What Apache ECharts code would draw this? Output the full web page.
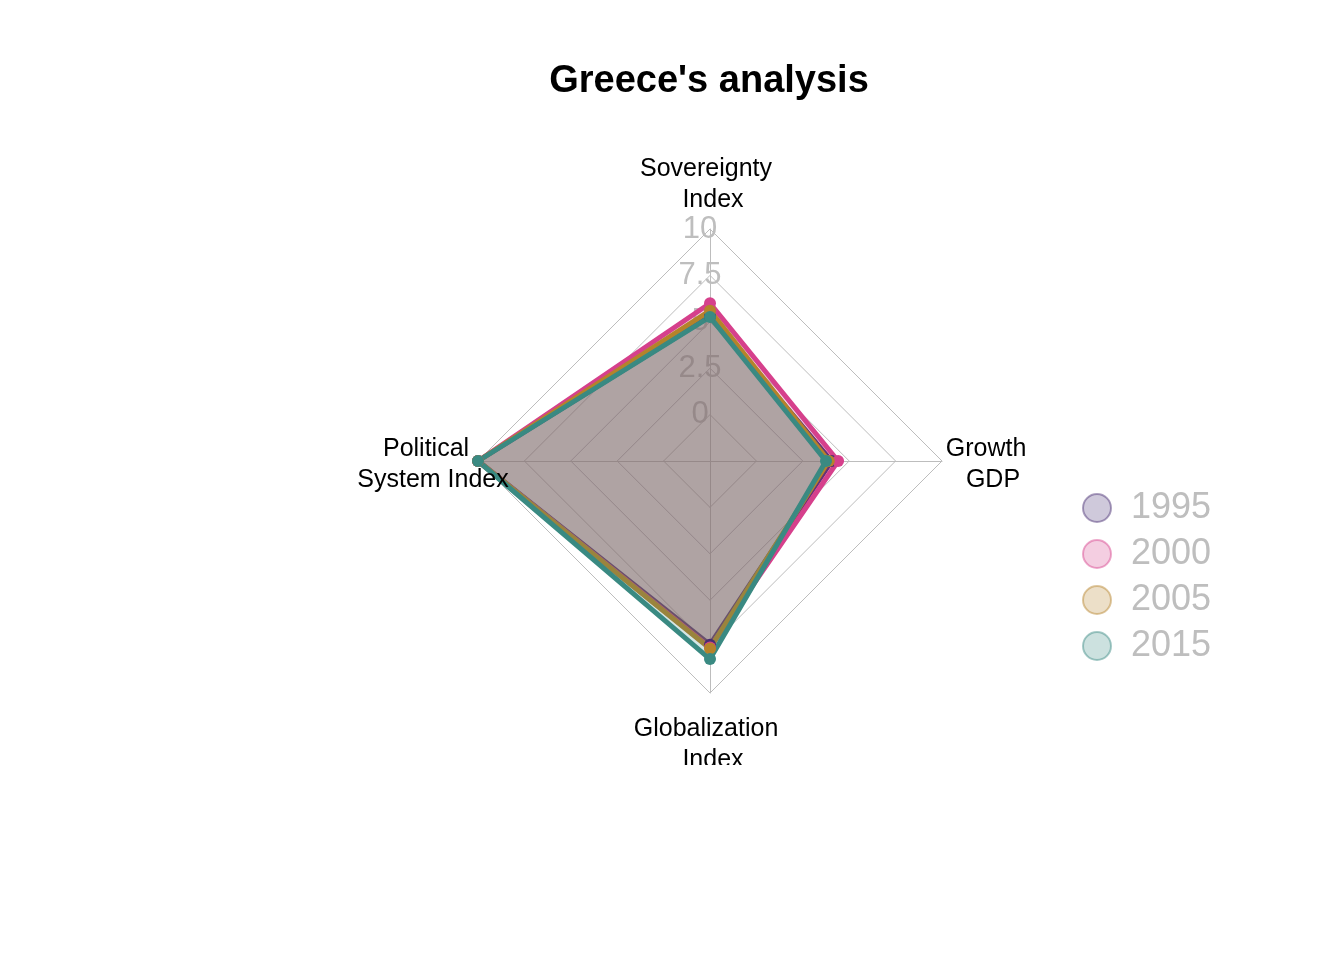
<!DOCTYPE html>
<html>
<head>
<meta charset="utf-8">
<script src="https://cdn.jsdelivr.net/npm/echarts@6/dist/echarts.min.js"></script>
<style>
  html, body { margin: 0; padding: 0; background: #fff; }
  #chart { width: 1344px; height: 960px; }
</style>
</head>
<body>
<div id="chart"></div>
<script>
// axes (ECharts radar goes counter-clockwise from the top)
const indicators = ["Sovereignty  \nIndex", "Political  \nSystem Index", "Globalization  \nIndex", "Growth  \nGDP"];
const years = ["1995", "2000", "2005", "2015"];

// values per year, same order as indicators
const v1995 = [5.3, 10, 7.4, 4.05];
const v2000 = [6.0, 10, 7.55, 4.4];
const v2005 = [5.6, 10, 7.6, 3.9];
const v2015 = [5.26, 10, 8.17, 3.75];

const axisMin = -2.5;
const axisMax = 10;

// line colours for each year
const lineColors = ["#472D72", "#D6408C", "#B5832A", "#3A8A82"];

const CX = 710, CY = 461, R = 232;
const FONT = "'Liberation Sans', Arial, sans-serif";

function rgba(hex, a) {
  const n = parseInt(hex.slice(1), 16);
  return `rgba(${(n >> 16) & 255},${(n >> 8) & 255},${n & 255},${a})`;
}

const values = [v1995, v2000, v2005, v2015];

const chart = echarts.init(document.getElementById("chart"));

// axis names: centred on each spoke a bit past the outer ring
const nameGraphics = indicators.map((txt, i) => {
  const ang = Math.PI / 2 + i * Math.PI / 2;
  return {
    type: "text",
    z: 50,
    style: {
      text: txt,
      x: CX + 3 + Math.cos(ang) * 280,
      y: CY + 4 - Math.sin(ang) * 280,
      textAlign: "center",
      textVerticalAlign: "middle",
      font: "25px " + FONT,
      lineHeight: 31,
      fill: "#000"
    }
  };
});

const option = {
  backgroundColor: "#fff",
  animation: false,
  title: {
    text: "Greece's analysis",
    left: 704,
    textAlign: "center",
    top: 58,
    textStyle: { fontFamily: FONT, fontSize: 38, fontWeight: "bold", color: "#000" }
  },
  legend: {
    orient: "vertical",
    left: 1077,
    top: 485,
    icon: "circle",
    itemWidth: 58,
    itemHeight: 28,
    itemGap: 10,
    selectedMode: false,
    textStyle: { fontFamily: FONT, fontSize: 36, color: "#BEBEBE", lineHeight: 28 },
    data: years.map((y, i) => ({
      name: y,
      itemStyle: { color: rgba(lineColors[i], 0.26), borderColor: rgba(lineColors[i], 0.45), borderWidth: 2 }
    }))
  },
  radar: {
    center: [CX, CY],
    radius: R,
    startAngle: 90,
    shape: "polygon",
    splitNumber: 5,
    axisName: { show: false },
    axisLine: { show: true, lineStyle: { color: "#BDBDBD", width: 1 } },
    splitLine: { show: true, lineStyle: { color: "#BDBDBD", width: 1 } },
    splitArea: { show: false },
    axisTick: { show: false },
    axisLabel: { show: false },
    indicator: indicators.map((name, i) => {
      const ind = { name: name, min: axisMin, max: axisMax };
      if (i === 0) {
        ind.axisLabel = {
          show: true,
          showMinLabel: false,
          color: "#BEBEBE",
          fontSize: 31,
          fontFamily: FONT,
          margin: 0,
          align: "center",
          verticalAlign: "middle",
          padding: [0, 20, 0, 0],
          formatter: v => (v < 0 ? "" : String(v))
        };
      }
      return ind;
    })
  },
  graphic: nameGraphics.concat([{
    type: "rect",
    z: 100,
    shape: { x: 0, y: 765, width: 1344, height: 195 },
    style: { fill: "#fff" }
  }]),
  series: [{
    type: "radar",
    symbol: "circle",
    symbolSize: 12,
    data: years.map((y, i) => ({
      name: y,
      value: values[i],
      lineStyle: { color: lineColors[i], width: 5 },
      itemStyle: { color: lineColors[i] },
      areaStyle: { color: rgba(lineColors[i], 0.3) }
    }))
  }]
};

chart.setOption(option);
</script>
</body>
</html>
